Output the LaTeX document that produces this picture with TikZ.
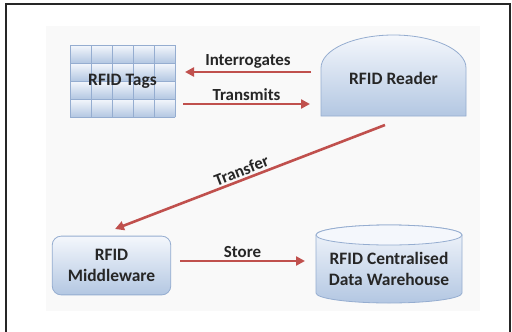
\documentclass[tikz,border=0pt]{standalone}
\usepackage{fontspec}
\setmainfont{Carlito}
\usetikzlibrary{arrows.meta}
\definecolor{boxtop}{HTML}{F4F7FC}
\definecolor{boxbot}{HTML}{B3C7E2}
\definecolor{boxline}{HTML}{95ADD0}
\definecolor{arrowred}{HTML}{C0504D}
\definecolor{txt}{HTML}{262626}
\begin{document}
\begin{tikzpicture}[x=1bp,y=1bp,
  font=\fontsize{17.5}{21}\selectfont\bfseries,
  arr/.style={draw=arrowred, line width=2.6bp, -{Triangle[length=9bp,width=9bp]}},
  lbl/.style={text=txt, inner sep=2bp, font=\fontsize{17}{20}\selectfont\bfseries},
  boxshade/.style={top color=boxtop, bottom color=boxbot, draw=boxline, line width=0.8bp},
  celltext/.style={text=txt, align=center}]
\useasboundingbox (0,0) rectangle (512,331);
\fill[white] (0,0) rectangle (512,331);
\draw[line width=1.6bp, black!85] (6,-10) rectangle (510,327);
\fill[gray!5] (46,20) rectangle (480,305);
% RFID Tags grid
\foreach \i in {0,...,4}{
  \foreach \j in {0,...,3}{
    \shade[top color=boxtop, bottom color=boxbot] (70+21*\i,214+18*\j) rectangle +(21,18);
  }
}
\foreach \i in {0,...,5}{\draw[boxline, line width=0.8bp] (70+21*\i,214) -- (70+21*\i,286);}
\foreach \j in {0,...,4}{\draw[boxline, line width=0.8bp] (70,214+18*\j) -- (175,214+18*\j);}
\node[celltext, minimum width=105, minimum height=72] (tags) at (122.5,250) {RFID Tags};
% RFID Reader
\shadedraw[boxshade] (321,215) -- (321,263) arc[start angle=180, end angle=0, x radius=72.5, y radius=33] -- (466,215) -- cycle;
\node[celltext] (reader) at (393.5,253) {RFID Reader};
% Middleware
\node[boxshade, rounded corners=9bp, minimum width=119, minimum height=59, celltext] (mid) at (111.5,65.5) {RFID\\Middleware};
% Data warehouse cylinder
\shadedraw[boxshade] (316,38) -- (316,96) arc[start angle=180, end angle=0, x radius=73, y radius=10] -- (462,38) arc[start angle=0, end angle=-180, x radius=73, y radius=10] -- cycle;
\draw[boxline, line width=0.8bp, fill=boxtop] (389,96) ellipse[x radius=73, y radius=10];
\node[celltext] (dw) at (389,62.5) {RFID Centralised\\Data Warehouse};
% connectors
\coordinate (i1) at (311,259); \coordinate (i2) at (185,259);
\coordinate (m1) at (183,227); \coordinate (m2) at (310,227);
\coordinate (t1) at (385,206); \coordinate (t2) at (115,102);
\coordinate (s1) at (180,70); \coordinate (s2) at (305,70);
\draw[arr] (i1) -- node[lbl, above] (lint) {Interrogates} (i2);
\draw[arr] (m1) -- node[lbl, above] (ltra) {Transmits} (m2);
\draw[arr] (t1) -- node[lbl, rotate=21, anchor=south, pos=0.52] (ltrf) {Transfer} (t2);
\draw[arr] (s1) -- node[lbl, above] (lsto) {Store} (s2);
\end{tikzpicture}
\end{document}
